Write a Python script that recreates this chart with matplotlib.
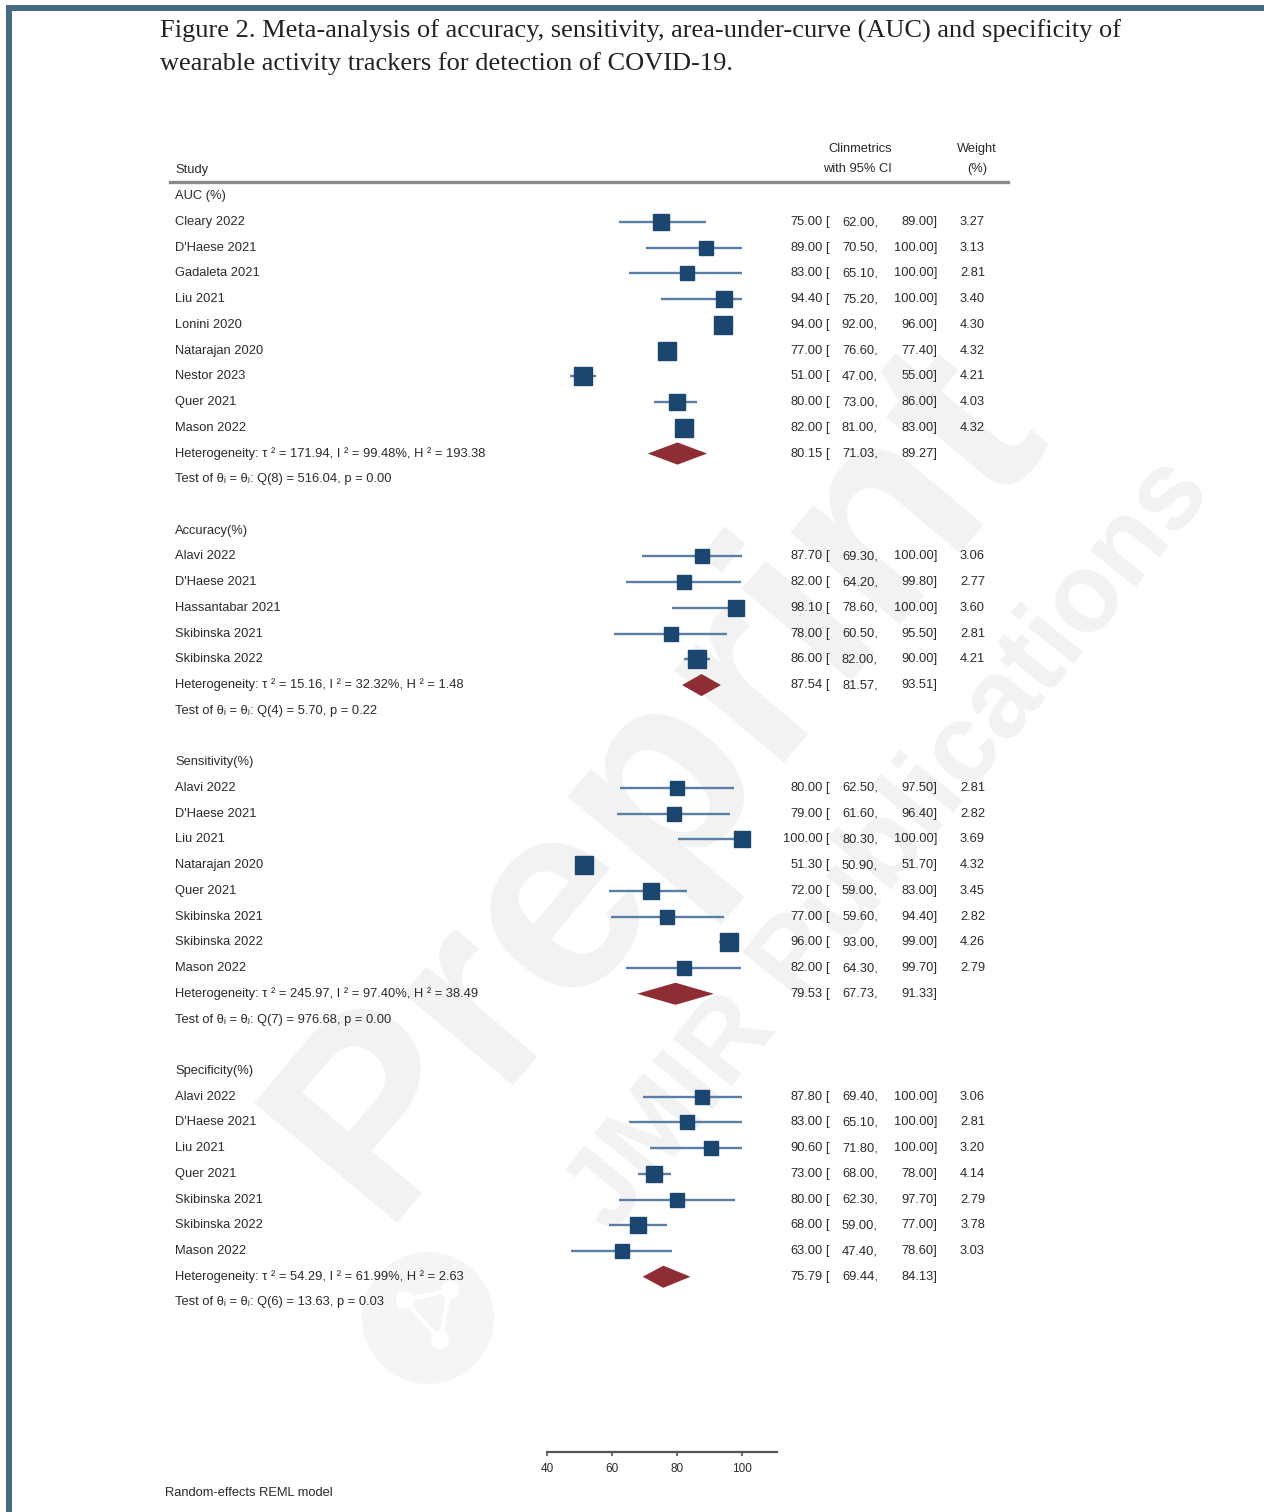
import matplotlib
matplotlib.use('Agg')
import matplotlib.pyplot as plt
import matplotlib.transforms as mtransforms
import numpy as np

plt.rcParams['font.family'] = ['Liberation Sans', 'DejaVu Sans']

# Study-level estimates ======================================================

auc_names = ['Cleary 2022', "D'Haese 2021", 'Gadaleta 2021', 'Liu 2021', 'Lonini 2020',
             'Natarajan 2020', 'Nestor 2023', 'Quer 2021', 'Mason 2022']
auc_est = [75.00, 89.00, 83.00, 94.40, 94.00, 77.00, 51.00, 80.00, 82.00]
auc_lo = [62.00, 70.50, 65.10, 75.20, 92.00, 76.60, 47.00, 73.00, 81.00]
auc_hi = [89.00, 100.00, 100.00, 100.00, 96.00, 77.40, 55.00, 86.00, 83.00]
auc_wt = [3.27, 3.13, 2.81, 3.40, 4.30, 4.32, 4.21, 4.03, 4.32]
auc_pool = [80.15, 71.03, 89.27]
auc_het = ['171.94', '99.48%', '193.38', 8, '516.04', '0.00']

acc_names = ['Alavi 2022', "D'Haese 2021", 'Hassantabar 2021', 'Skibinska 2021', 'Skibinska 2022']
acc_est = [87.70, 82.00, 98.10, 78.00, 86.00]
acc_lo = [69.30, 64.20, 78.60, 60.50, 82.00]
acc_hi = [100.00, 99.80, 100.00, 95.50, 90.00]
acc_wt = [3.06, 2.77, 3.60, 2.81, 4.21]
acc_pool = [87.54, 81.57, 93.51]
acc_het = ['15.16', '32.32%', '1.48', 4, '5.70', '0.22']

sen_names = ['Alavi 2022', "D'Haese 2021", 'Liu 2021', 'Natarajan 2020', 'Quer 2021',
             'Skibinska 2021', 'Skibinska 2022', 'Mason 2022']
sen_est = [80.00, 79.00, 100.00, 51.30, 72.00, 77.00, 96.00, 82.00]
sen_lo = [62.50, 61.60, 80.30, 50.90, 59.00, 59.60, 93.00, 64.30]
sen_hi = [97.50, 96.40, 100.00, 51.70, 83.00, 94.40, 99.00, 99.70]
sen_wt = [2.81, 2.82, 3.69, 4.32, 3.45, 2.82, 4.26, 2.79]
sen_pool = [79.53, 67.73, 91.33]
sen_het = ['245.97', '97.40%', '38.49', 7, '976.68', '0.00']

spe_names = ['Alavi 2022', "D'Haese 2021", 'Liu 2021', 'Quer 2021', 'Skibinska 2021',
             'Skibinska 2022', 'Mason 2022']
spe_est = [87.80, 83.00, 90.60, 73.00, 80.00, 68.00, 63.00]
spe_lo = [69.40, 65.10, 71.80, 68.00, 62.30, 59.00, 47.40]
spe_hi = [100.00, 100.00, 100.00, 78.00, 97.70, 77.00, 78.60]
spe_wt = [3.06, 2.81, 3.20, 4.14, 2.79, 3.78, 3.03]
spe_pool = [75.79, 69.44, 84.13]
spe_het = ['54.29', '61.99%', '2.63', 6, '13.63', '0.03']

groups = [
    ('AUC (%)', auc_names, auc_est, auc_lo, auc_hi, auc_wt, auc_pool, auc_het),
    ('Accuracy(%)', acc_names, acc_est, acc_lo, acc_hi, acc_wt, acc_pool, acc_het),
    ('Sensitivity(%)', sen_names, sen_est, sen_lo, sen_hi, sen_wt, sen_pool, sen_het),
    ('Specificity(%)', spe_names, spe_est, spe_lo, spe_hi, spe_wt, spe_pool, spe_het),
]

xticks = [40, 60, 80, 100]

# Layout ======================================================================

W, H = 1264, 1512
fig = plt.figure(figsize=(W / 100, H / 100), dpi=100)
fig.patch.set_facecolor('white')

ROW0, ROWH = 196.3, 25.725      # pixel y of row 0 and row height
X40, XU = 547.0, 3.25           # pixel x of 40 and pixels per unit

ax = fig.add_axes([0, 0, 1, 1])
ax.set_xlim(40 - X40 / XU, 40 + (W - X40) / XU)
ax.set_ylim((H - ROW0) / ROWH, -ROW0 / ROWH)
ax.axis('off')

pix = mtransforms.Affine2D().scale(1 / W, -1 / H).translate(0, 1) + fig.transFigure
row_tf = mtransforms.blended_transform_factory(pix, ax.transData)

SQ = '#1b4670'
CI = '#5a7ea6'
DIA = '#8e2d33'
TXT = '#2a2a2a'
WM = '#f2f2f2'
FS = 9.3

# frame
ax.add_artist(plt.Rectangle((7, 5), W, 6, transform=pix, color='#466b80', lw=0, clip_on=False))
ax.add_artist(plt.Rectangle((6, 5), 6, H, transform=pix, color='#466b80', lw=0, clip_on=False))

# watermark, kept underneath everything else
ax.text(660, 780, 'Preprint', transform=pix, rotation=50, fontsize=195, fontweight='bold',
        color=WM, ha='center', va='center', zorder=0)
ax.text(890, 845, 'JMIR Publications', transform=pix, rotation=51, fontsize=80,
        fontweight='bold', color=WM, ha='center', va='center', zorder=0)
ax.add_artist(plt.Circle((428, 1318), 66, transform=pix, color='#f5f5f5', lw=0, zorder=0))
for cx, cy in [(405, 1300), (450, 1290), (440, 1340)]:
    ax.add_artist(plt.Circle((cx, cy), 9, transform=pix, color='white', lw=0, zorder=0.5))
ax.plot([405, 450, 440, 405], [1300, 1290, 1340, 1300], transform=pix, color='white',
        lw=3, zorder=0.5)

# caption
fig.text(160, 31, 'Figure 2. Meta-analysis of accuracy, sensitivity, area-under-curve (AUC) '
         'and specificity of', transform=pix, family='Liberation Serif', fontsize=19,
         va='center', color='#222222')
fig.text(160, 64, 'wearable activity trackers for detection of COVID-19.', transform=pix,
         family='Liberation Serif', fontsize=19, va='center', color='#222222')

# column headings
fig.text(175, 170, 'Study', transform=pix, fontsize=FS, va='center', color=TXT)
fig.text(860, 149, 'Clinmetrics', transform=pix, fontsize=FS, va='center', ha='center', color=TXT)
fig.text(857, 169, 'with 95% CI', transform=pix, fontsize=FS, va='center', ha='center', color=TXT)
fig.text(977, 149, 'Weight', transform=pix, fontsize=FS, va='center', ha='center', color=TXT)
fig.text(977, 169, '(%)', transform=pix, fontsize=FS, va='center', ha='center', color=TXT)
fig.add_artist(plt.Line2D([170, 1008], [182, 182], transform=pix, color='#8a8a8a', lw=2.4))


def value_cols(i, est, lo, hi):
    ax.text(823, i, f'{est:.2f}', transform=row_tf, ha='right', va='center', fontsize=FS, color=TXT)
    ax.text(825, i, '[', transform=row_tf, ha='left', va='center', fontsize=FS, color=TXT)
    ax.text(878, i, f'{lo:.2f},', transform=row_tf, ha='right', va='center', fontsize=FS, color=TXT)
    ax.text(937, i, f'{hi:.2f}]', transform=row_tf, ha='right', va='center', fontsize=FS, color=TXT)


row = 0
for title, names, est, lo, hi, wt, pool, het in groups:
    ax.text(175, row, title, transform=row_tf, va='center', fontsize=FS, color=TXT)
    row += 1
    for k in range(len(names)):
        ax.text(175, row, names[k], transform=row_tf, va='center', fontsize=FS, color=TXT)
        ax.hlines(row, lo[k], hi[k], color=CI, lw=1.7, zorder=3)
        side = 8.3 * np.sqrt(wt[k]) * 0.72
        ax.plot(est[k], row, marker='s', ms=side, color=SQ, mec=SQ, zorder=4)
        value_cols(row, est[k], lo[k], hi[k])
        ax.text(985, row, f'{wt[k]:.2f}', transform=row_tf, ha='right', va='center',
                fontsize=FS, color=TXT)
        row += 1
    tau2, i2, h2, dof, q, p = het
    ax.text(175, row, f'Heterogeneity: \u03c4 \u00b2 = {tau2}, I \u00b2 = {i2}, H \u00b2 = {h2}',
            transform=row_tf, va='center', fontsize=FS, color=TXT)
    ax.fill([pool[1], pool[0], pool[2], pool[0]], [row, row - 0.43, row, row + 0.43],
            color=DIA, lw=0, zorder=4)
    value_cols(row, *pool)
    row += 1
    ax.text(175, row, f'Test of \u03b8\u1d62 = \u03b8\u2c7c: Q({dof}) = {q}, p = {p}',
            transform=row_tf, va='center', fontsize=FS, color=TXT)
    row += 2

# x axis under the forest
ax2 = fig.add_axes([X40 / W, (H - 1452) / H, 230 / W, 1e-4])
ax2.set_xlim(40, 40 + 230 / XU)
ax2.set_xticks(xticks)
for s in ['top', 'left', 'right']:
    ax2.spines[s].set_visible(False)
ax2.spines['bottom'].set_color('#555555')
ax2.spines['bottom'].set_linewidth(1.6)
ax2.set_yticks([])
ax2.tick_params(axis='x', length=3, width=1.2, color='#555555', labelsize=8.5,
                labelcolor=TXT, pad=5)
ax2.patch.set_visible(False)

fig.text(165, 1493, 'Random-effects REML model', transform=pix, fontsize=FS, va='center', color=TXT)

fig.savefig('out.png', dpi=100)
plt.close()
